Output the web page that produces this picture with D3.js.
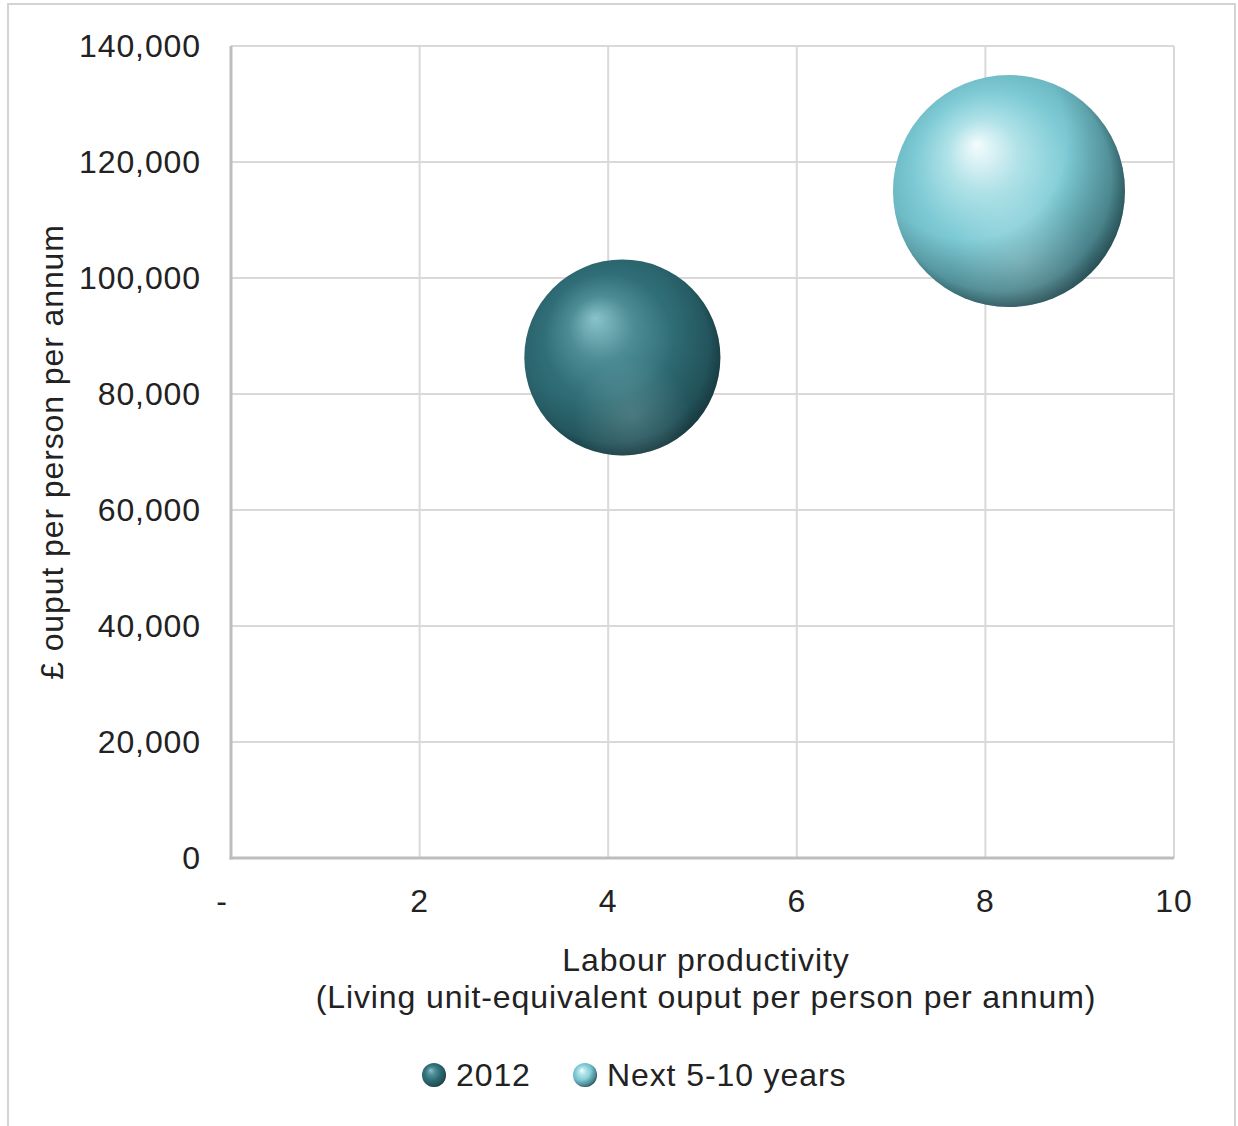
<!DOCTYPE html>
<html>
<head>
<meta charset="utf-8">
<script src="https://cdn.jsdelivr.net/npm/d3@7"></script>
<style>
  html, body { margin: 0; padding: 0; background: #fff; }
  svg { display: block; font-family: "Liberation Sans", Arial, sans-serif; }
  text { letter-spacing: 0.9px; }
</style>
</head>
<body>
<svg id="chart" width="1238" height="1126"></svg>
<script>
// ---- data ----
const seriesNames = ["2012", "Next 5-10 years"];
const xValues = [4.15, 8.25];             // labour productivity
const yValues = [86300, 115000];          // £ output per person per annum
const bubbleSizes = [100, 140];           // relative bubble size
const xTicks = [0, 2, 4, 6, 8, 10];
const xTickLabels = ["-", "2", "4", "6", "8", "10"];
const yTicks = [0, 20000, 40000, 60000, 80000, 100000, 120000, 140000];
const yTickLabels = ["0", "20,000", "40,000", "60,000", "80,000", "100,000", "120,000", "140,000"];
const xTitle = ["Labour productivity", "(Living unit-equivalent ouput per person per annum)"];
const yTitle = "£ ouput per person per annum";

// ---- layout ----
const svg = d3.select("#chart");
const pLeft = 231, pRight = 1174, pTop = 46, pBottom = 858;
const x = d3.scaleLinear().domain([0, 10]).range([pLeft, pRight]);
const y = d3.scaleLinear().domain([0, 140000]).range([pBottom, pTop]);
const r = d3.scaleSqrt().domain([0, 140]).range([0, 116]);
const FS = 32;

// outer frame
svg.append("rect").attr("x", 8).attr("y", 4).attr("width", 1227).attr("height", 1140)
  .attr("fill", "none").attr("stroke", "#d4d4d4").attr("stroke-width", 2);

// gradients
const defs = svg.append("defs");
const palettes = [
  [["0", "#8ac3ca"], ["0.3", "#4c8c95"], ["0.6", "#306e77"], ["0.88", "#29616a"], ["1", "#1c4349"]],
  [["0", "#f4fcfd"], ["0.28", "#b0e2e8"], ["0.6", "#7ecbd5"], ["0.88", "#6ab6c0"], ["1", "#3f747b"]]
];
const shadeOp = [[0.3, 0.45], [0.45, 0.62]];
palettes.forEach((p, i) => {
  const g = defs.append("radialGradient").attr("id", "sph" + i)
    .attr("cx", "0.47").attr("cy", "0.47").attr("r", "0.55")
    .attr("fx", "0.36").attr("fy", "0.3");
  p.forEach(s => g.append("stop").attr("offset", s[0]).attr("stop-color", s[1]));
  const sh = defs.append("radialGradient").attr("id", "shade" + i)
    .attr("cx", "0.32").attr("cy", "0.28").attr("r", "0.95");
  sh.append("stop").attr("offset", "0.45").attr("stop-color", "#0b2226").attr("stop-opacity", 0);
  sh.append("stop").attr("offset", "0.8").attr("stop-color", "#0b2226").attr("stop-opacity", shadeOp[i][0]);
  sh.append("stop").attr("offset", "1").attr("stop-color", "#0b2226").attr("stop-opacity", shadeOp[i][1]);
});
const reflect = defs.append("radialGradient").attr("id", "reflect")
  .attr("cx", "0.55").attr("cy", "0.8").attr("r", "0.3");
reflect.append("stop").attr("offset", "0").attr("stop-color", "#ffffff").attr("stop-opacity", 0.16);
reflect.append("stop").attr("offset", "1").attr("stop-color", "#ffffff").attr("stop-opacity", 0);

// gridlines
const grid = svg.append("g");
grid.selectAll(".hg").data(yTicks.slice(1)).join("line")
  .attr("x1", pLeft).attr("x2", pRight).attr("y1", d => y(d)).attr("y2", d => y(d))
  .attr("stroke", "#d9d9d9").attr("stroke-width", 2);
grid.selectAll(".vg").data(xTicks.slice(1)).join("line")
  .attr("x1", d => x(d)).attr("x2", d => x(d)).attr("y1", pTop).attr("y2", pBottom)
  .attr("stroke", "#d9d9d9").attr("stroke-width", 2);

// axes lines
svg.append("line").attr("x1", pLeft).attr("x2", pLeft).attr("y1", pTop).attr("y2", pBottom + 1.5)
  .attr("stroke", "#bdbdbd").attr("stroke-width", 3);
svg.append("line").attr("x1", pLeft - 1.5).attr("x2", pRight).attr("y1", pBottom).attr("y2", pBottom)
  .attr("stroke", "#bdbdbd").attr("stroke-width", 3);

// tick labels
svg.append("g").selectAll("text").data(yTicks).join("text")
  .attr("x", 201).attr("y", d => y(d)).attr("dy", "0.35em")
  .attr("text-anchor", "end").attr("font-size", FS).attr("fill", "#222")
  .text((d, i) => yTickLabels[i]);
svg.append("g").selectAll("text").data(xTicks).join("text")
  .attr("x", d => d === 0 ? x(d) - 9 : x(d)).attr("y", 912)
  .attr("text-anchor", "middle").attr("font-size", FS).attr("fill", "#222")
  .text((d, i) => xTickLabels[i]);

// axis titles
svg.append("text").attr("x", 706).attr("y", 971).attr("text-anchor", "middle")
  .attr("font-size", FS).attr("fill", "#222").text(xTitle[0]);
svg.append("text").attr("x", 706).attr("y", 1008).attr("text-anchor", "middle")
  .attr("font-size", FS).attr("fill", "#222").text(xTitle[1]);
svg.append("text").attr("transform", "translate(63,452) rotate(-90)").attr("text-anchor", "middle")
  .attr("font-size", FS).attr("fill", "#222").text(yTitle);

// bubbles
const data = seriesNames.map((n, i) => ({ n, x: xValues[i], y: yValues[i], s: bubbleSizes[i], i }));
const bub = svg.append("g").selectAll("g").data(data).join("g");
bub.append("circle").attr("cx", d => x(d.x)).attr("cy", d => y(d.y)).attr("r", d => r(d.s))
  .attr("fill", d => `url(#sph${d.i})`);
bub.append("circle").attr("cx", d => x(d.x)).attr("cy", d => y(d.y)).attr("r", d => r(d.s))
  .attr("fill", d => `url(#shade${d.i})`);
bub.append("circle").attr("cx", d => x(d.x)).attr("cy", d => y(d.y)).attr("r", d => r(d.s))
  .attr("fill", "url(#reflect)");

// legend
const legX = [434, 585];
const leg = svg.append("g").selectAll("g").data(data).join("g")
  .attr("transform", (d, i) => `translate(${legX[i]},1075)`);
leg.append("circle").attr("r", 12).attr("fill", d => `url(#sph${d.i})`);
leg.append("circle").attr("r", 12).attr("fill", d => `url(#shade${d.i})`);
leg.append("text").attr("x", 22).attr("dy", "0.35em").attr("font-size", FS).attr("fill", "#222")
  .text(d => d.n);
</script>
</body>
</html>
